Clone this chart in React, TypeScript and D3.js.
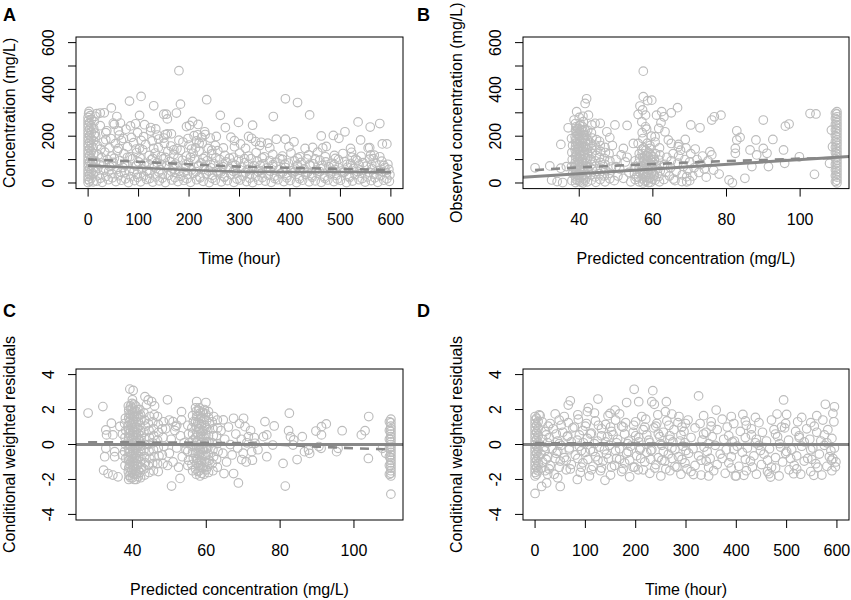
import React from 'react';
import * as d3 from 'd3';

type Pt = [number, number];

// ticks
const timeTicks = [0, 100, 200, 300, 400, 500, 600];
const concTicks = [0, 100, 200, 300, 400, 500, 600];
const concLabels = [0, 200, 400, 600];
const predTicks = [40, 60, 80, 100];
const cwresTicks = [-4, -2, 0, 2, 4];

const timeRange: [number, number] = [0, 600];
const concRange: [number, number] = [0, 600];
const predRange: [number, number] = [28, 110];
const cwresRange: [number, number] = [-4, 4];

// ---- A: time vs observed concentration ----
const aBlob: Pt[] = [
  [0,2],[0,15],[0,28],[0,42],[0,55],[0,70],[0,84],[0,97],[0,112],[0,126],[0,140],[0,155],[0,168],[0,182],[0,196],[0,210],[0,224],[0,238],[0,252],[0,266],[0,280],[1,296],[2,306],
  [3,8],[3,35],[3,62],[3,90],[3,118],[3,146],[3,174],[3,202],[3,230],[3,258],[4,288],
  [6,20],[6,48],[6,76],[6,104],[6,132],[6,160],[6,188],[6,216],[6,244],[7,272],
  [10,5],[10,38],[11,66],[10,95],[11,125],[10,152],[11,180],[12,205],[11,232],[12,262],[14,285],
];
const aBand: Pt[] = [
  [17,8],[28,3],[40,14],[55,6],[66,12],[80,2],[92,10],[104,5],[116,15],[128,4],[141,9],[153,2],[166,13],[178,6],[190,11],[203,3],[215,14],[228,7],[240,2],[252,12],[264,5],[276,10],[289,3],[301,13],[314,6],[326,2],[338,11],[351,8],[363,3],[376,14],[388,6],[400,10],[413,2],[425,12],[438,5],[450,9],[462,3],[475,13],[487,6],[500,11],[512,2],[524,8],[537,14],[549,4],[561,10],[574,3],[586,12],[597,7],
  [24,20],[48,22],[74,18],[98,24],[122,19],[147,21],[172,23],[196,18],[222,22],[246,20],[270,24],[295,17],[320,21],[345,23],[370,19],[394,22],[419,18],[444,24],[469,20],[494,17],[518,23],[543,19],[568,22],[592,18],
  [22,34],[35,28],[47,40],[60,31],[72,44],[85,27],[97,37],[110,30],[122,42],[134,26],[147,38],[159,32],[172,45],[184,29],[197,36],[209,41],[221,27],[234,39],[246,33],[258,44],[270,28],[283,36],[295,42],[307,30],[320,38],[332,26],[344,43],[357,34],[369,29],[381,40],[394,32],[406,44],[418,27],[431,37],[443,31],[455,42],[468,28],[480,39],[492,33],[505,45],[517,29],[529,36],[542,41],[554,26],[566,38],[579,31],[591,43],[598,35],
  [14,48],[41,50],[65,46],[91,49],[116,51],[140,47],[165,50],[190,46],[214,49],[239,51],[263,47],[288,50],[312,46],[337,49],[361,51],[386,47],[410,50],[435,46],[459,49],[484,51],[508,47],[533,50],[557,46],[582,49],
  [19,62],[31,55],[43,70],[57,58],[69,66],[82,52],[94,73],[106,60],[119,54],[131,68],[143,57],[156,74],[168,61],[180,50],[193,67],[205,56],[218,72],[230,59],[243,65],[255,51],[267,70],[280,62],[292,55],[304,68],[317,58],[329,73],[341,53],[354,64],[366,71],[378,57],[391,66],[403,52],[415,69],[428,60],[440,74],[452,55],[465,63],[477,70],[489,58],[502,51],[514,67],[526,62],[539,56],[551,72],[563,60],[576,54],[588,66],[596,58],
  [23,78],[47,76],[72,79],[96,75],[121,78],[145,80],[170,76],[194,79],[219,75],[243,78],[268,80],[292,76],[317,79],[341,75],[366,78],[390,80],[415,76],[439,79],[464,75],[488,78],[513,80],[537,76],[562,79],[586,75],
  [15,92],[26,85],[38,100],[50,88],[63,96],[75,82],[88,104],[100,90],[112,84],[125,99],[137,87],[149,103],[162,92],[174,81],[187,97],[199,88],[211,102],[224,86],[236,95],[249,83],[261,100],[273,90],[286,84],[298,98],[310,87],[323,104],[335,93],[347,82],[360,96],[372,89],[385,101],[397,85],[409,94],[422,88],[434,103],[446,82],[459,97],[471,90],[483,84],[496,100],[508,91],[520,83],[533,96],[545,87],[558,102],[570,85],[582,93],[594,80],
  [27,108],[52,106],[78,110],[103,107],[128,105],[153,109],[178,106],[203,110],[228,105],[253,108],[280,106],[310,104],[345,107],[380,104],[415,106],[450,103],[490,105],[530,102],[565,104],
  [20,120],[33,132],[46,115],[58,138],[71,125],[83,112],[96,130],[108,142],[121,118],[133,128],[145,113],[158,135],[170,122],[183,140],[195,115],[208,127],[220,136],[232,112],[245,124],[257,138],[271,118],[288,110],[300,127],[318,115],[333,130],[349,112],[366,122],[385,115],[402,128],[420,112],[437,120],[455,132],[470,112],[488,118],[505,126],[523,110],[541,114],[560,120],[578,112],
  [25,145],[60,148],[95,145],[130,148],[170,142],[205,145],[245,140],
  [18,160],[30,175],[42,150],[54,168],[66,182],[78,155],[90,172],[102,148],[114,165],[127,180],[139,152],[151,170],[164,158],[176,146],[188,175],[200,162],[213,150],[226,170],[238,148],[252,160],[268,150],[290,155],[312,148],[340,160],[360,150],[398,155],[430,148],[445,152],[465,150],[520,148],[555,150],
  [35,185],[70,190],[105,182],[140,188],[180,183],[215,180],
  [15,200],[24,245],[35,215],[45,190],[52,250],[62,205],[75,230],[86,195],[98,215],[110,198],[124,222],[137,205],[150,192],[165,210],[198,190],[210,202],[225,195],[242,192],
];
const aHigh: Pt[] = [
  [180,480],[82,350],[105,370],[130,330],[183,337],[175,299],[235,356],[262,289],[150,294],[155,294],[157,274],[157,210],[153,207],
  [391,360],[415,344],[439,291],[367,284],[298,259],[326,247],[272,237],[535,261],[559,239],[578,254],[583,167],[592,167],[558,151],
  [540,184],[509,219],[486,203],[497,191],[462,201],[472,156],[522,131],[567,119],[391,187],[408,176],[373,187],[356,170],[343,174],
  [318,199],[324,191],[332,177],[302,167],[283,196],[290,181],[254,199],[231,219],[232,207],[220,170],[201,246],[195,241],[207,263],
  [218,250],[217,206],[124,237],[134,231],[112,249],[94,253],[84,244],[102,289],[57,284],[46,321],[32,300],[24,299],[17,296],[64,256],
  [50,256],[60,223],[37,223],[14,213],
];
const aSolid: Pt[] = [[0,74],[100,65],[200,55.5],[300,48],[400,47],[500,47],[600,46]];
const aDashed: Pt[] = [[0,101],[100,91],[200,80],[300,70],[400,65],[500,60],[600,56]];

// ---- B: predicted vs observed concentration ----
const bCluster40: Pt[] = [
  [38,10],[38.2,40],[37.9,70],[38.1,100],[38,130],[38.2,160],[37.9,190],
  [39,2],[39.1,16],[38.9,30],[39,44],[39.2,58],[39,72],[38.9,86],[39.1,100],[39,114],[39.2,128],[38.9,142],[39,156],[39.1,170],[39,184],[38.9,198],[39.2,212],[39,226],[39.1,240],[39,254],
  [40,8],[40.1,22],[39.9,36],[40,50],[40.2,64],[40,78],[39.9,92],[40.1,106],[40,120],[40.2,134],[39.9,148],[40,162],[40.1,176],[40,190],[39.9,204],[40.2,218],[40,232],[40.1,246],[40,280],
  [41,0],[41.2,18],[40.9,34],[41,52],[41.1,68],[41,86],[40.9,102],[41.2,120],[41,136],[41.1,154],[40.9,170],[41,188],[41.2,205],[41,222],[40.9,240],[41.1,262],[41,285],
  [42.2,5],[42,25],[42.4,45],[42.2,65],[42,85],[42.3,105],[42.2,125],[42,145],[42.4,165],[42.2,185],[42,205],[42.3,225],
  [43.3,12],[43.1,35],[43.5,58],[43.3,80],[43.1,102],[43.4,125],[43.3,148],[43.1,170],[43.5,192],[43.3,215],
  [44.5,3],[44.3,26],[44.7,50],[44.5,72],[44.3,95],[44.6,118],[44.5,140],[44.3,162],[44.7,185],
  [45.7,15],[45.5,40],[45.9,62],[45.7,88],[45.5,110],[45.8,135],[45.7,160],[45.5,178],
  [47,5],[46.8,30],[47.2,55],[47,80],[46.8,105],[47.1,130],[47,152],
  [48.3,18],[48.1,42],[48.5,68],[48.3,95],[48.1,125],
];
const bCore: Pt[] = [
  [39.5,10],[39.6,32],[39.4,54],[39.5,76],[39.6,98],[39.4,120],[39.5,142],[39.6,164],[39.4,186],[39.5,208],[39.6,230],
  [40.5,4],[40.6,26],[40.4,48],[40.5,70],[40.6,92],[40.4,114],[40.5,136],[40.6,158],[40.4,180],[40.5,202],[40.6,224],[40.4,250],
  [41.6,12],[41.7,36],[41.5,60],[41.6,84],[41.7,108],[41.5,132],[41.6,156],[41.7,180],[41.5,204],[41.6,228],
  [57.8,8],[57.9,26],[57.7,44],[57.8,62],[57.9,80],[57.7,98],[57.8,116],
  [58.8,2],[58.9,20],[58.7,38],[58.8,56],[58.9,74],[58.7,92],[58.8,110],[58.9,130],
  [60,16],[60.1,40],[59.9,64],[60,88],[60.1,112],
];
const bCluster58: Pt[] = [
  [55.2,15],[55,40],[55.4,70],[55.2,95],
  [56.3,5],[56.1,25],[56.5,45],[56.3,65],[56.1,85],[56.4,105],[56.3,125],
  [57.3,0],[57.1,18],[57.5,36],[57.3,54],[57.1,72],[57.4,90],[57.3,108],[57.1,126],[57.5,150],[57.3,190],[57.1,215],
  [58.3,10],[58.1,28],[58.5,46],[58.3,64],[58.1,82],[58.4,100],[58.3,118],[58.1,140],[58.5,170],[58.3,230],
  [59.4,3],[59.2,22],[59.6,42],[59.4,60],[59.2,80],[59.5,100],[59.4,120],[59.2,160],[59.6,200],
  [60.6,12],[60.4,34],[60.8,56],[60.6,78],[60.4,100],[60.7,125],[60.6,175],
  [61.8,5],[61.6,28],[62,52],[61.8,75],[61.6,98],[61.9,120],[61.8,150],
];
const bMid: Pt[] = [
  [63,15],[63.5,45],[63.2,80],[63.8,110],[64.5,30],[64.8,65],[65,95],[65.5,125],[66,10],[66.3,50],[66.8,85],[67,115],[67.5,140],
  [68,35],[68.3,70],[68.7,100],[69.2,5],[69.5,55],[70,90],[70.3,125],[70.8,30],[71.2,65],[71.5,145],[72,100],[72.5,45],[73,80],
  [73.5,115],[74,60],[75,95],[76,120],[74.5,25],[69,150],[67,165],[70,10],[65.6,17],[67.9,6],[69.2,27],
];
const bCol110: Pt[] = [
  [110,0],[110,12],[110,25],[110,37],[110,49],[110,61],[110,74],[110,86],[110,98],[110,110],[110,123],[110,135],[110,147],[110,160],
  [110,172],[110,184],[110,197],[110,209],[110,221],[110,233],[110,246],[110,258],[110,270],[110,283],[110,295],[110,305],
  [109.6,6],[109.6,31],[109.6,55],[109.6,80],[109.6,104],[109.6,129],[109.6,153],[109.6,178],[109.6,202],[109.6,227],[109.6,251],[109.6,276],[109.6,298],
];
const bScatter: Pt[] = [
  [28,65],[32,73],[32.5,13],[34,6],[35.5,2],[35,63],[36.5,70],[35,165],[37,236],[38.6,269],[39.3,305],[41.6,340],[42,360],[42.5,290],
  [43.4,248],[44.3,255],[45.7,255],[47.5,219],[48.3,194],[49.7,248],[53,246],[52,148],[51.4,120],[50,70],[49.5,10],[50.5,30],[51,60],
  [52,20],[52.5,90],[53.5,45],[54,5],[55,70],[55.5,25],[50,100],[53,110],[49,160],
  [57.4,478],[57.4,369],[58.6,352],[59.7,354],[56.5,329],[57.2,312],[56,293],[58,290],[61,290],[62.4,305],[65,300],[66.7,322],[63,283],
  [62.2,258],[57,262],[58,240],[61.6,233],[63.3,219],[60.6,198],[64.2,184],[65,169],[66.9,155],[54.7,169],[56,169],[57,144],[59.2,148],[68.8,186],
  [70.3,248],[72.8,236],[76,269],[76.7,283],[78.5,290],[75.5,134],[76.5,55],[78,38],[80.7,13],[81.6,1],[82.8,223],[83.7,195],[82.8,184],
  [82.4,148],[82.4,127],[85,20],[86.9,70],[86.4,141],[88,184],[88.2,120],[90,269],[90,148],[91,127],[91.4,70],[92.6,186],[95.5,141],
  [95.8,84],[96,243],[97,252],[99.8,112],[102.7,297],[104.3,295],[103.9,37],[108.8,155],[108.5,226],[108,84],
];
const bDashed: Pt[] = [[28,55],[40,67],[50,74],[60,81],[70,88],[80,94],[90,98],[100,104],[110,107]];

// ---- C: predicted vs CWRES ----
const cCluster40: Pt[] = [
  [38,-1.2],[38.2,-0.8],[37.9,-0.4],[38.1,0],[38,0.4],[38.2,0.8],[37.9,1.2],[38.1,1.5],
  [39,-2.0],[39.1,-1.78],[38.9,-1.56],[39,-1.34],[39.2,-1.12],[39,-0.9],[38.9,-0.68],[39.1,-0.46],[39,-0.24],[39.2,-0.02],[38.9,0.2],[39,0.42],[39.1,0.64],[39,0.86],[38.9,1.08],[39.2,1.3],[39,1.52],[39.1,1.74],[39,1.96],[38.9,2.2],
  [40,-1.9],[40.1,-1.67],[39.9,-1.45],[40,-1.23],[40.2,-1.01],[40,-0.79],[39.9,-0.57],[40.1,-0.35],[40,-0.13],[40.2,0.09],[39.9,0.31],[40,0.53],[40.1,0.75],[40,0.97],[39.9,1.19],[40.2,1.41],[40,1.63],[40.1,1.85],[40,2.07],[39.9,2.35],
  [41,-2.0],[41.2,-1.7],[40.9,-1.4],[41,-1.1],[41.1,-0.8],[41,-0.5],[40.9,-0.2],[41.2,0.1],[41,0.4],[41.1,0.7],[40.9,1.0],[41,1.3],[41.2,1.6],[41,1.9],[40.9,2.2],
  [42.2,-1.9],[42,-1.6],[42.4,-1.3],[42.2,-1.0],[42,-0.7],[42.3,-0.4],[42.2,-0.1],[42,0.2],[42.4,0.5],[42.2,0.8],[42,1.1],[42.3,1.4],[42.2,1.7],[42,2.0],
  [43.3,-1.75],[43.1,-1.4],[43.5,-1.05],[43.3,-0.7],[43.1,-0.35],[43.4,0],[43.3,0.35],[43.1,0.7],[43.5,1.05],[43.3,1.4],[43.1,1.8],
  [44.5,-1.6],[44.3,-1.2],[44.7,-0.8],[44.5,-0.4],[44.3,0],[44.6,0.4],[44.5,0.8],[44.3,1.2],[44.7,1.6],
  [45.7,-1.5],[45.5,-1.1],[45.9,-0.7],[45.7,-0.3],[45.5,0.1],[45.8,0.5],[45.7,0.9],[45.5,1.3],[45.9,1.7],
  [47,-1.55],[46.8,-1.1],[47.2,-0.65],[47,-0.2],[46.8,0.25],[47.1,0.7],[47,1.15],[46.8,1.6],
  [48.3,-1.1],[48.1,-0.6],[48.5,-0.1],[48.3,0.4],[48.1,0.9],[48.4,1.3],
];
const cCore: Pt[] = [
  [39.5,-1.9],[39.6,-1.6],[39.4,-1.3],[39.5,-1.0],[39.6,-0.7],[39.4,-0.4],[39.5,-0.1],[39.6,0.2],[39.4,0.5],[39.5,0.8],[39.6,1.1],[39.4,1.4],[39.5,1.7],[39.6,2.0],
  [40.5,-2.0],[40.6,-1.7],[40.4,-1.4],[40.5,-1.1],[40.6,-0.8],[40.4,-0.5],[40.5,-0.2],[40.6,0.1],[40.4,0.4],[40.5,0.7],[40.6,1.0],[40.4,1.3],[40.5,1.6],[40.6,1.9],[40.4,2.3],
  [41.6,-1.85],[41.7,-1.5],[41.5,-1.15],[41.6,-0.8],[41.7,-0.45],[41.5,-0.1],[41.6,0.25],[41.7,0.6],[41.5,0.95],[41.6,1.3],[41.7,1.65],[41.5,2.0],
  [57.8,-1.55],[57.9,-1.2],[57.7,-0.85],[57.8,-0.5],[57.9,-0.15],[57.7,0.2],[57.8,0.55],[57.9,0.9],[57.7,1.25],[57.8,1.6],[57.9,1.95],
  [58.8,-1.65],[58.9,-1.3],[58.7,-0.95],[58.8,-0.6],[58.9,-0.25],[58.7,0.1],[58.8,0.45],[58.9,0.8],[58.7,1.15],[58.8,1.5],[58.9,1.85],
  [60,-1.45],[60.1,-1.05],[59.9,-0.65],[60,-0.25],[60.1,0.15],[59.9,0.55],[60,0.95],[60.1,1.35],[59.9,1.75],
];
const cCluster58: Pt[] = [
  [55.2,-0.9],[55,-0.4],[55.4,0.1],[55.2,0.6],[55,1.1],
  [56.3,-1.5],[56.1,-1.15],[56.5,-0.8],[56.3,-0.45],[56.1,-0.1],[56.4,0.25],[56.3,0.6],[56.1,0.95],[56.5,1.3],[56.3,1.65],
  [57.3,-1.7],[57.1,-1.4],[57.5,-1.1],[57.3,-0.8],[57.1,-0.5],[57.4,-0.2],[57.3,0.1],[57.1,0.4],[57.5,0.7],[57.3,1.0],[57.1,1.3],[57.4,1.6],[57.3,1.9],[57.1,2.1],
  [58.3,-1.8],[58.1,-1.5],[58.5,-1.2],[58.3,-0.9],[58.1,-0.6],[58.4,-0.3],[58.3,0],[58.1,0.3],[58.5,0.6],[58.3,0.9],[58.1,1.2],[58.4,1.5],[58.3,1.8],[58.1,2.1],
  [59.4,-1.7],[59.2,-1.35],[59.6,-1.0],[59.4,-0.65],[59.2,-0.3],[59.5,0.05],[59.4,0.4],[59.2,0.75],[59.6,1.1],[59.4,1.45],[59.2,1.8],[59.5,2.0],
  [60.6,-1.6],[60.4,-1.25],[60.8,-0.9],[60.6,-0.55],[60.4,-0.2],[60.7,0.15],[60.6,0.5],[60.4,0.85],[60.8,1.2],[60.6,1.55],
  [61.8,-1.5],[61.6,-1.1],[62,-0.7],[61.8,-0.3],[61.6,0.1],[61.9,0.5],[61.8,0.9],[61.6,1.3],[62,1.6],
  [63,-1.3],[62.8,-0.85],[63.2,-0.4],[63,0.05],[62.8,0.5],[63.1,0.95],[63,1.4],
];
const cCol110: Pt[] = [
  [110,-1.8],[110,-1.65],[110,-1.5],[110,-1.35],[110,-1.2],[110,-1.05],[110,-0.9],[110,-0.75],[110,-0.6],[110,-0.45],[110,-0.3],
  [110,-0.15],[110,0],[110,0.15],[110,0.3],[110,0.45],[110,0.6],[110,0.75],[110,0.9],[110,1.05],[110,1.25],[110,1.45],
  [109.6,-1.7],[109.6,-1.2],[109.6,-0.7],[109.6,-0.2],[109.6,0.3],[109.6,0.8],[109.6,1.3],[110,-2.84],
];
const cScatter: Pt[] = [
  [28,1.8],[32,2.17],[32.2,-1.47],[33.4,-1.66],[34.7,-1.75],[36.1,-1.85],[32.8,0.83],[33,0.55],[34.7,0.55],[34.3,1.22],[32.8,-0.22],
  [32.5,-0.7],[35.2,-0.41],[35.2,-0.7],[36.6,1.03],[37.3,0.6],[37.3,-0.6],[39.3,3.17],[40.2,3.09],[40,2.56],[39.5,2.21],[43.4,2.74],
  [44.3,2.55],[45.2,2.46],[46,2.21],[43.8,2.27],[49.5,2.56],[50.6,-2.38],[52.9,-1.94],[53.3,1.88],[51,1.31],[51.7,1.02],[53.3,1.41],
  [57.4,2.46],[59.9,2.4],[60.6,1.88],[64.8,-1.66],[67.4,-1.66],[68.7,-2.2],[64.6,1.41],[67.4,1.5],[70.1,1.5],[70.5,1.02],[70.8,-1.0],
  [69.6,-0.86],[71.4,0.45],[72.3,-0.41],[73.2,0.07],[75.5,0.45],[75.9,1.31],[76.4,0.55],[76.4,-0.7],[78,-0.03],[78.4,1.06],[80.8,-1.08],
  [81.4,-2.38],[82.3,0.79],[82.5,1.79],[82.8,0.45],[83.7,0.26],[83.5,-0.03],[84.6,-0.86],[86,0.45],[86.6,-0.41],[87.7,-0.32],[88,-0.51],
  [89.7,0.77],[91.2,1.02],[92.5,1.18],[91.2,0.55],[90.5,-0.12],[91.1,-0.22],[95.3,-0.41],[95.7,-0.22],[96.8,0.79],[102,0.55],[103,0.79],
  [104,1.6],[103.9,-0.8],[107.7,-0.22],[108.6,-0.5],
  [49.5,-1.2],[50,-0.5],[50.5,0.3],[51,-1.0],[51.5,0.8],[52,-0.2],[52.5,-1.3],[53,0.5],[53.5,-0.7],[54,0.1],[54.5,-0.3],[49,0.9],
  [50,1.4],[52,1.1],[55,-1.2],
  [64,0.8],[64.5,-0.5],[65,0.3],[65.5,-1.0],[66,1.0],[66.5,0.0],[67,-0.6],[68,0.6],[68.5,-0.2],[69,1.2],[69.5,0.3],[70,-0.5],
  [71,0.1],[72,0.8],[72.5,-0.9],[73,0.4],[74,-0.3],
];
const cDashed: Pt[] = [[28,0.12],[40,0.12],[60,0.1],[72,0.07],[80,-0.01],[90,-0.12],[100,-0.22],[110,-0.28]];

// ---- D: time vs CWRES ----
const dBlob: Pt[] = [
  [0,-1.8],[0,-1.6],[0,-1.4],[0,-1.2],[0,-1.0],[0,-0.8],[0,-0.6],[0,-0.4],[0,-0.2],[0,0],[0,0.2],[0,0.4],[0,0.6],[0,0.8],[0,1.0],
  [0,1.2],[0,1.4],[0,1.6],[3,-1.7],[3,-1.3],[3,-0.9],[3,-0.5],[3,-0.1],[3,0.3],[3,0.7],[3,1.1],[3,1.5],
  [6,-1.5],[6,-1.1],[6,-0.7],[6,-0.3],[6,0.1],[6,0.5],[6,0.9],[6,1.3],[8,1.7],
];
const dBand: Pt[] = [
  [20,-1.5],[38,-1.7],[62,-1.45],[90,-1.6],[108,-1.8],[130,-1.5],[150,-1.75],[172,-1.55],[188,-1.85],[205,-1.45],[228,-1.65],[250,-1.8],
  [268,-1.5],[290,-1.7],[310,-1.55],[330,-1.75],[355,-1.5],[378,-1.65],[400,-1.8],[420,-1.5],[440,-1.7],[462,-1.55],[485,-1.8],[505,-1.45],
  [528,-1.7],[548,-1.55],[570,-1.75],[590,-1.5],
  [12,-1.35],[28,-1.4],[48,-1.3],[70,-1.4],[92,-1.3],[112,-1.45],[132,-1.35],[152,-1.3],[175,-1.4],[195,-1.3],[215,-1.45],[238,-1.35],
  [260,-1.4],[282,-1.3],[302,-1.4],[345,-1.3],[390,-1.35],[432,-1.3],[478,-1.35],[520,-1.4],[562,-1.3],
  [15,-1.0],[30,-1.2],[50,-0.95],[72,-1.15],[95,-1.05],[115,-1.25],[135,-0.95],[158,-1.2],[178,-1.05],[198,-1.3],[218,-1.0],[240,-1.15],
  [258,-0.95],[278,-1.25],[298,-1.05],[318,-1.2],[340,-0.95],[362,-1.15],[385,-1.05],[405,-1.25],[428,-0.95],[450,-1.15],[470,-1.3],
  [492,-1.0],[515,-1.2],[535,-0.95],[558,-1.1],[580,-1.25],[598,-1.0],
  [22,-0.85],[40,-0.8],[62,-0.9],[85,-0.8],[105,-0.85],[125,-0.9],[146,-0.8],[168,-0.85],[188,-0.9],[210,-0.8],[230,-0.85],[252,-0.9],
  [272,-0.8],[292,-0.85],[330,-0.9],[372,-0.8],[418,-0.85],[462,-0.9],[508,-0.8],[550,-0.85],[592,-0.8],
  [12,-0.55],[25,-0.7],[42,-0.5],[58,-0.75],[80,-0.6],[100,-0.45],[120,-0.7],[142,-0.55],[162,-0.8],[182,-0.5],[202,-0.65],[222,-0.45],
  [245,-0.75],[265,-0.55],[285,-0.7],[305,-0.5],[325,-0.65],[348,-0.8],[368,-0.55],[390,-0.7],[412,-0.45],[435,-0.65],[455,-0.55],
  [478,-0.75],[498,-0.5],[520,-0.65],[542,-0.8],[565,-0.55],[585,-0.7],
  [20,-0.35],[45,-0.4],[68,-0.3],[92,-0.35],[115,-0.4],[138,-0.3],[160,-0.35],[185,-0.4],[208,-0.3],[230,-0.35],[255,-0.4],[278,-0.3],
  [300,-0.35],[342,-0.4],[395,-0.3],[448,-0.35],[500,-0.4],[548,-0.3],[588,-0.35],
  [18,-0.15],[34,-0.25],[52,-0.05],[68,-0.2],[88,-0.1],[110,-0.3],[128,-0.15],[148,-0.05],[168,-0.25],[190,-0.1],[210,-0.2],[232,-0.3],
  [252,-0.05],[272,-0.2],[294,-0.1],[314,-0.25],[336,-0.15],[358,-0.05],[380,-0.3],[402,-0.1],[422,-0.2],[445,-0.05],[466,-0.25],
  [488,-0.15],[510,-0.3],[530,-0.1],[552,-0.2],[575,-0.05],[595,-0.2],
  [25,0.1],[48,0.05],[72,0.15],[96,0.1],[118,0.05],[140,0.15],[162,0.1],[184,0.05],[206,0.15],[228,0.1],[250,0.05],[274,0.15],
  [298,0.1],[345,0.05],[392,0.15],[438,0.1],[486,0.05],[535,0.15],[580,0.1],
  [15,0.3],[28,0.4],[45,0.2],[64,0.45],[84,0.25],[104,0.35],[124,0.2],[144,0.45],[164,0.3],[186,0.2],[206,0.4],[226,0.25],[248,0.45],
  [268,0.3],[288,0.2],[310,0.4],[332,0.25],[352,0.45],[375,0.3],[396,0.2],[418,0.4],[440,0.3],[460,0.2],[482,0.45],[504,0.25],[525,0.4],
  [546,0.3],[568,0.2],[590,0.35],
  [22,0.55],[42,0.6],[65,0.5],[88,0.55],[110,0.6],[132,0.5],[155,0.55],[178,0.6],[200,0.5],[222,0.55],[245,0.6],[268,0.5],
  [290,0.55],[335,0.6],[385,0.5],[430,0.55],[478,0.6],[525,0.5],[575,0.55],
  [20,0.75],[36,0.9],[55,0.7],[75,0.95],[95,0.8],[112,0.65],[132,0.9],[152,0.75],[175,1.0],[195,0.7],[215,0.85],[236,0.95],[255,0.7],
  [276,0.85],[296,0.75],[318,0.95],[340,0.7],[362,0.85],[382,1.0],[408,0.75],[430,0.9],[452,0.7],[475,0.85],[496,0.95],[518,0.75],
  [540,0.9],[560,0.7],[582,0.85],
  [26,1.05],[52,1.1],[78,1.0],[100,1.05],[126,1.1],[150,1.0],[172,1.05],[196,1.1],[218,1.0],[240,1.05],[266,1.1],[292,1.0],
  [350,1.05],[420,1.1],[490,1.0],[555,1.05],
  [14,1.3],[30,1.2],[48,1.4],[66,1.25],[86,1.45],[102,1.2],[120,1.35],[140,1.15],[160,1.4],[180,1.25],[200,1.3],[220,1.45],[242,1.2],
  [262,1.35],[284,1.25],[304,1.4],[328,1.2],[350,1.3],[372,1.45],[395,1.2],[418,1.35],[445,1.25],[470,1.4],[498,1.2],[522,1.3],
  [548,1.25],[572,1.4],[594,1.3],
  [10,1.65],[40,1.75],[58,1.6],[85,1.7],[118,1.8],[145,1.65],[168,1.75],[212,1.6],[244,1.7],[286,1.6],[335,1.65],[390,1.6],[438,1.55],
  [530,1.55],[560,1.65],
];
const dHigh: Pt[] = [
  [0,-2.8],[13,-2.4],[23,-2.2],[50,-2.4],[45,-1.9],[25,-1.7],[70,2.5],[66,2.26],[125,2.6],[197,3.16],[234,3.08],[232,2.45],[237,2.3],
  [325,2.78],[261,2.45],[206,2.45],[182,2.4],[494,2.55],[577,2.3],[595,2.16],[592,1.78],[481,1.74],[500,1.72],[413,1.72],[360,1.97],
  [139,-2.05],[84,-2.0],[597,-1.28],[589,-0.9],[315,-1.72],[345,-1.8],[398,-1.8],[465,-1.67],[468,-1.86],[514,-1.67],[554,-1.76],
  [415,-1.76],[106,2.1],[104,1.88],[159,1.97],[149,1.78],[259,1.88],[272,1.74],[299,1.2],
];
const dDashed: Pt[] = [[0,0.08],[150,0.06],[300,0.04],[450,0.02],[600,0.0]];

const FONT = "'Liberation Sans', Arial, Helvetica, sans-serif";
const POINT = '#bcbcbc';
const LINE = '#888888';

const pad = (d: [number, number]): [number, number] => {
  const e = (d[1] - d[0]) * 0.04;
  return [d[0] - e, d[1] + e];
};

interface PanelProps {
  id: string;
  label: string;
  labelPos: [number, number];
  left: number;
  top: number;
  width: number;
  height: number;
  xDomain: [number, number];
  yDomain: [number, number];
  xTicks: number[];
  xLabels: number[];
  yTicks: number[];
  yLabels: number[];
  xTitle: string;
  yTitle: string;
  points: Pt[];
  solid?: Pt[];
  dashed: Pt[];
  refLine?: 'identity' | 'zero';
}

const Panel: React.FC<PanelProps> = (p) => {
  const x = d3.scaleLinear().domain(pad(p.xDomain)).range([p.left, p.left + p.width]);
  const y = d3.scaleLinear().domain(pad(p.yDomain)).range([p.top + p.height, p.top]);
  const line = d3.line<Pt>().x(d => x(d[0])).y(d => y(d[1]));
  const bottom = p.top + p.height;
  const [dx0, dx1] = x.domain();
  let ref: Pt[] | null = null;
  if (p.refLine === 'identity') ref = [[dx0, dx0], [dx1, dx1]];
  if (p.refLine === 'zero') ref = [[dx0, 0], [dx1, 0]];

  return (
    <g>
      <defs>
        <clipPath id={`clip-${p.id}`}>
          <rect x={p.left} y={p.top} width={p.width} height={p.height} />
        </clipPath>
      </defs>
      <g clipPath={`url(#clip-${p.id})`}>
        {p.points.map((d, i) => (
          <circle key={i} cx={x(d[0])} cy={y(d[1])} r={4.3} fill="none" stroke={POINT} strokeWidth={1.15} />
        ))}
        {ref && <path d={line(ref) || ''} fill="none" stroke={LINE} strokeWidth={3} />}
        {p.solid && <path d={line(p.solid) || ''} fill="none" stroke={LINE} strokeWidth={2.6} />}
        <path d={line(p.dashed) || ''} fill="none" stroke={LINE} strokeWidth={2.6} strokeDasharray="9 7" />
      </g>
      <rect x={p.left} y={p.top} width={p.width} height={p.height} fill="none" stroke="#000" strokeWidth={1} />
      {p.xTicks.map(t => (
        <line key={`xt${t}`} x1={x(t)} x2={x(t)} y1={bottom} y2={bottom + 8} stroke="#000" />
      ))}
      {p.xLabels.map(t => (
        <text key={`xl${t}`} x={x(t)} y={bottom + 36} textAnchor="middle" fontSize={16} fontFamily={FONT}>{t}</text>
      ))}
      {p.yTicks.map(t => (
        <line key={`yt${t}`} x1={p.left - 8} x2={p.left} y1={y(t)} y2={y(t)} stroke="#000" />
      ))}
      {p.yLabels.map(t => (
        <text key={`yl${t}`} transform={`translate(${p.left - 22},${y(t)}) rotate(-90)`} textAnchor="middle"
          fontSize={16} fontFamily={FONT}>{String(t)}</text>
      ))}
      <text x={p.left + p.width / 2} y={bottom + 75} textAnchor="middle" fontSize={16} fontFamily={FONT}>{p.xTitle}</text>
      <text transform={`translate(${p.left - 61},${p.top + p.height / 2}) rotate(-90)`} textAnchor="middle"
        fontSize={16} fontFamily={FONT}>{p.yTitle}</text>
      <text x={p.labelPos[0]} y={p.labelPos[1]} fontSize={18} fontWeight="bold" fontFamily={FONT}>{p.label}</text>
    </g>
  );
};

export default function App() {
  return (
    <svg width={851} height={600} style={{ position: 'absolute', left: 0, top: 0, background: '#fff' }}>
      <Panel id="a" label="A" labelPos={[3, 21]} left={76} top={37} width={327} height={151.6}
        xDomain={timeRange} yDomain={concRange} xTicks={timeTicks} xLabels={timeTicks}
        yTicks={concTicks} yLabels={concLabels} xTitle="Time (hour)" yTitle="Concentration (mg/L)"
        points={[...aBlob, ...aBand, ...aHigh]} solid={aSolid} dashed={aDashed} />
      <Panel id="b" label="B" labelPos={[417, 21]} left={523} top={37} width={326} height={151.6}
        xDomain={predRange} yDomain={concRange} xTicks={predTicks} xLabels={predTicks}
        yTicks={concTicks} yLabels={concLabels} xTitle="Predicted concentration (mg/L)" yTitle="Observed concentration (mg/L)"
        points={[...bCluster40, ...bCore, ...bCluster58, ...bMid, ...bCol110, ...bScatter]} dashed={bDashed} refLine="identity" />
      <Panel id="c" label="C" labelPos={[3, 317]} left={76} top={369} width={327} height={151}
        xDomain={predRange} yDomain={cwresRange} xTicks={predTicks} xLabels={predTicks}
        yTicks={cwresTicks} yLabels={cwresTicks} xTitle="Predicted concentration (mg/L)" yTitle="Conditional weighted residuals"
        points={[...cCluster40, ...cCore, ...cCluster58, ...cCol110, ...cScatter]} dashed={cDashed} refLine="zero" />
      <Panel id="d" label="D" labelPos={[417, 317]} left={523} top={369} width={326} height={151}
        xDomain={timeRange} yDomain={cwresRange} xTicks={timeTicks} xLabels={timeTicks}
        yTicks={cwresTicks} yLabels={cwresTicks} xTitle="Time (hour)" yTitle="Conditional weighted residuals"
        points={[...dBlob, ...dBand, ...dHigh]} dashed={dDashed} refLine="zero" />
    </svg>
  );
}
